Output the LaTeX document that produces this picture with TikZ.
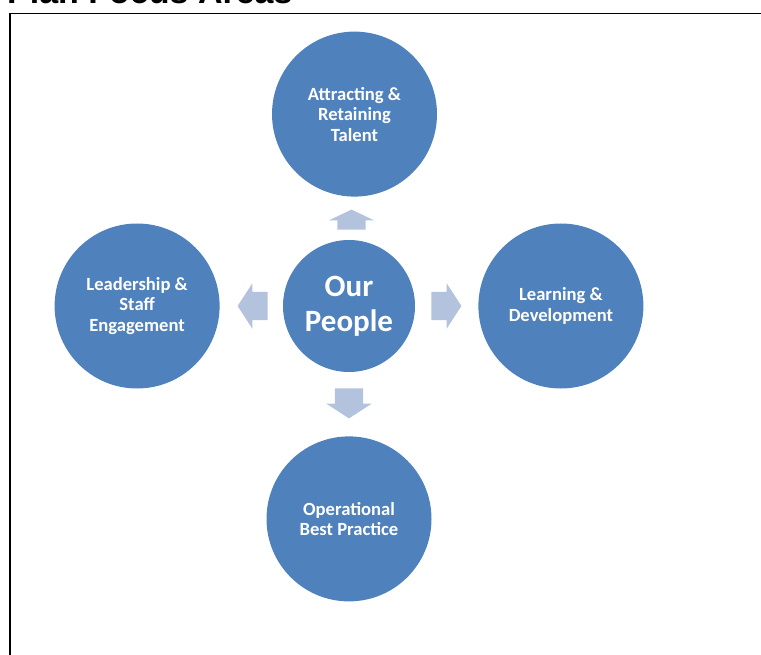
\documentclass[tikz,border=0pt]{standalone}
\usepackage{fontspec}
\setmainfont{Carlito}
\newfontfamily\titlefont{Liberation Sans}
\usetikzlibrary{positioning,calc,shapes.arrows}

\definecolor{areablue}{HTML}{4F81BD}
\definecolor{arrowblue}{HTML}{B3C3DE}

\tikzset{
  area/.style={circle, fill=areablue, text=white, align=center, inner sep=0pt,
    minimum size=165pt, font=\bfseries\fontsize{18.6}{20.5}\selectfont},
  core/.style={area, minimum size=132pt, font=\bfseries\fontsize{31}{35}\selectfont},
  blockarrow/.style={single arrow, fill=arrowblue, anchor=tail, inner xsep=0pt, inner ysep=14pt,
    single arrow head extend=8.5pt, single arrow tip angle=114, minimum height=30pt},
}

\begin{document}
\begin{tikzpicture}[x=1pt,y=-1pt]
\useasboundingbox (0,0) rectangle (761,655);
\clip (0,0) rectangle (761,655);

% title and frame
\node[anchor=base west, inner sep=0pt, font=\titlefont\bfseries\fontsize{34}{40}\selectfont](title) at (7,3.5) {Plan Focus Areas};
\draw[line width=1.3pt] (10,670) |- (780,13.3);

% Nodes
% centre and focus areas
\node[core](people) at (349,306) {Our\\People};
\node[area, above = 43pt of people, xshift=5.5pt](talent){Attracting \&\\Retaining\\Talent};
\node[area, left = 63pt of people](leadership){Leadership \&\\Staff\\Engagement};
\node[area, right = 63pt of people](learning){Learning \&\\Development};
\node[area, below = 64pt of people](practice){Operational\\Best Practice};

% block arrows
\node[blockarrow, rotate=90, minimum height=20pt, single arrow tip angle=129](uparrow) at ($(people.north)+(2.5,-10)$) {};
\node[blockarrow, rotate=180](leftarrow) at ($(people.west)+(-15,0)$) {};
\node[blockarrow](rightarrow) at ($(people.east)+(16,0)$) {};
\node[blockarrow, rotate=-90](downarrow) at ($(people.south)+(0,16)$) {};

\end{tikzpicture}
\end{document}
